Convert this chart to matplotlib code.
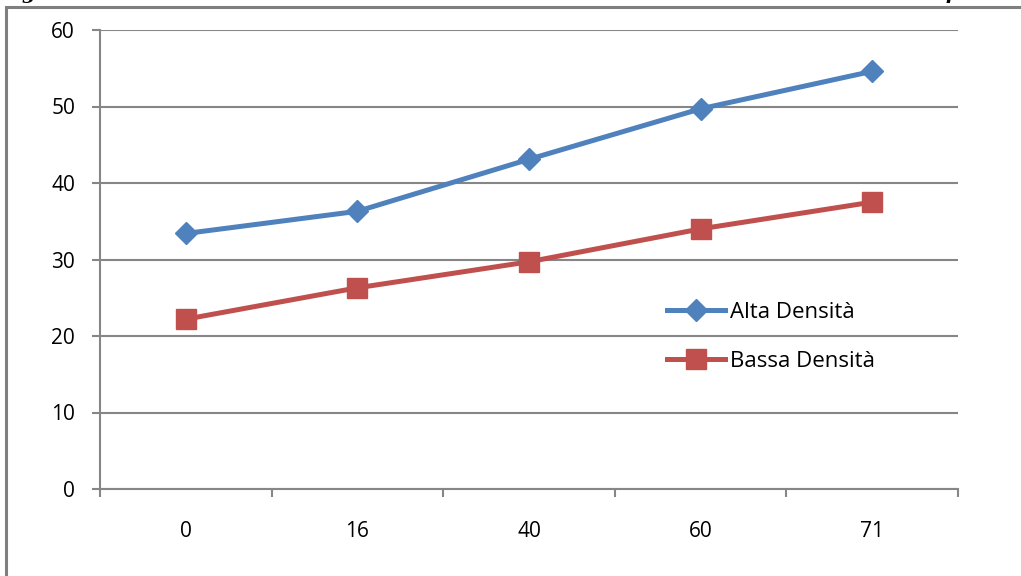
import matplotlib.pyplot as plt
from matplotlib.patches import Rectangle

# -------------------------------
# Data
# -------------------------------
categories = ["0", "16", "40", "60", "71"]
alta = [33.4, 36.3, 43.1, 49.7, 54.6]
bassa = [22.2, 26.3, 29.7, 34.0, 37.5]
y_ticks = [0, 10, 20, 30, 40, 50, 60]

blue = "#4F81BD"
red = "#C0504D"
grey = "#868686"

plt.rcParams["font.family"] = ["Open Sans", "DejaVu Sans"]

fig = plt.figure(figsize=(10.21, 5.76), dpi=100)
ax = fig.add_axes([100 / 1021, 1 - 489 / 576, 858 / 1021, 459 / 576])

x = list(range(len(categories)))
ax.plot(x, alta, color=blue, lw=3.6, marker="D", ms=11, label="Alta Densità")
ax.plot(x, bassa, color=red, lw=3.6, marker="s", ms=14, label="Bassa Densità")

ax.set_xlim(-0.5, len(categories) - 0.5)
ax.set_ylim(0, 60)
ax.set_yticks(y_ticks)
ax.set_yticklabels([str(v) for v in y_ticks])

# category boundaries as major ticks, labels on minor ticks
ax.set_xticks([i - 0.5 for i in range(len(categories) + 1)])
ax.set_xticklabels([])
ax.set_xticks(x, minor=True)
ax.set_xticklabels(categories, minor=True)
ax.tick_params(axis="x", which="major", length=6, width=1.5, color=grey, direction="out")
ax.tick_params(axis="x", which="minor", length=0, pad=23, labelsize=15)
ax.tick_params(axis="y", length=6, width=1.5, color=grey, direction="out", pad=12, labelsize=15)

ax.yaxis.grid(True, color=grey, lw=1.5)
ax.set_axisbelow(True)
for s in ["top", "right"]:
    ax.spines[s].set_visible(False)
for s in ["left", "bottom"]:
    ax.spines[s].set_color(grey)
    ax.spines[s].set_linewidth(1.5)

ax.legend(loc="center left", bbox_to_anchor=(0.661, 0.332), frameon=False,
          borderaxespad=0, borderpad=0, fontsize=16, handlelength=2.6,
          handletextpad=0.25, labelspacing=1.25)

# outer frame of the figure box
fig.add_artist(Rectangle((6 / 1021, -0.2), 2.0, 1.2 - 7 / 576, transform=fig.transFigure,
                         fill=False, ec="#7f7f7f", lw=2.2))

# cut-off caption above the frame
fig.text(22 / 1021, 1 + 1 / 576, "g", fontsize=14, family="DejaVu Serif",
         style="italic", weight="bold", va="baseline")
fig.text(946 / 1021, 1 + 1 / 576, "p", fontsize=14, family="DejaVu Serif",
         style="italic", weight="bold", va="baseline")

fig.savefig("out.png", dpi=100)
